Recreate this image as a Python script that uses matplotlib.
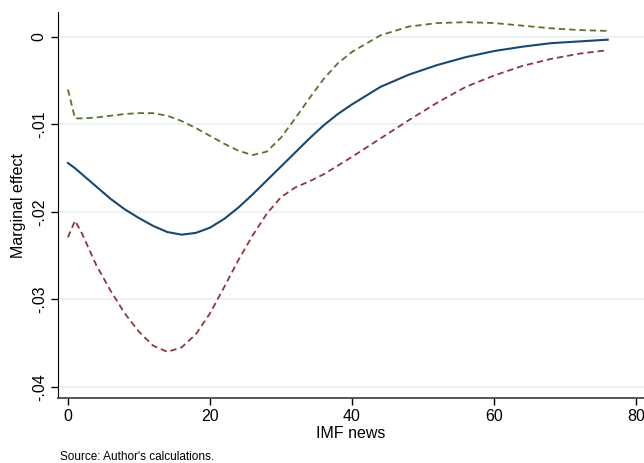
import matplotlib.pyplot as plt

plt.rcParams['font.family'] = ['Liberation Sans', 'DejaVu Sans']

# IMF news values where the curves were read
imf_news = [0, 1, 2, 4, 6, 8, 10, 12, 14, 16, 18, 20, 22, 24, 26, 28,
            30, 32, 34, 36, 38, 40, 44, 48, 52, 56, 60, 64, 68, 72, 76]

marginal = [-0.0144, -0.0150, -0.0157, -0.0171, -0.0185, -0.0197, -0.0207,
            -0.0216, -0.0223, -0.0226, -0.0224, -0.0218, -0.0208, -0.0195,
            -0.0180, -0.0164, -0.0148, -0.0132, -0.0116, -0.0101, -0.0088,
            -0.0077, -0.0057, -0.0043, -0.0032, -0.0023, -0.0016, -0.0011,
            -0.0007, -0.0005, -0.0003]

upper = [-0.0060, -0.0093, -0.0093, -0.0092, -0.0090, -0.0088, -0.0087,
         -0.0087, -0.0090, -0.0096, -0.0104, -0.0113, -0.0122, -0.0130,
         -0.0135, -0.0131, -0.0115, -0.0093, -0.0070, -0.0048, -0.0030,
         -0.0017, 0.0002, 0.0012, 0.0016, 0.0017, 0.0016, 0.0013,
         0.0010, 0.0008, 0.0007]

lower = [-0.0229, -0.0210, -0.0225, -0.0261, -0.0290, -0.0316, -0.0337,
         -0.0353, -0.0360, -0.0355, -0.0340, -0.0316, -0.0286, -0.0255,
         -0.0227, -0.0202, -0.0183, -0.0172, -0.0165, -0.0157, -0.0147,
         -0.0137, -0.0116, -0.0095, -0.0075, -0.0057, -0.0044, -0.0033,
         -0.0025, -0.0019, -0.0015]

y_ticks = [0, -0.01, -0.02, -0.03, -0.04]
y_labels = ['0', '-.01', '-.02', '-.03', '-.04']
x_ticks = [0, 20, 40, 60, 80]

fig = plt.figure(figsize=(6.44, 4.63), dpi=100)
ax = fig.add_axes([0.090, 0.140, 0.910, 0.834])

for yt in y_ticks:
    ax.axhline(yt, color='#eaf2f3', linewidth=1.3, zorder=0)

ax.plot(imf_news, upper, color='#55752f', linewidth=1.3, dashes=(3.5, 2.2))
ax.plot(imf_news, lower, color='#90353b', linewidth=1.3, dashes=(3.5, 2.2))
ax.plot(imf_news, marginal, color='#1a476f', linewidth=1.5)

ax.set_xlim(-1.4, 81.1)
ax.set_ylim(-0.0413, 0.00286)
ax.set_xticks(x_ticks)
ax.set_yticks(y_ticks)
ax.set_yticklabels(y_labels, rotation=90, va='center')
ax.tick_params(axis='both', direction='out', length=5, width=1,
               labelsize=11.5, colors='black')
ax.tick_params(axis='y', pad=3)
ax.tick_params(axis='x', pad=3)

for side in ['top', 'right']:
    ax.spines[side].set_visible(False)
ax.spines['left'].set_color('black')
ax.spines['bottom'].set_color('#555555')
ax.spines['bottom'].set_linewidth(1.4)

ax.set_xlabel('IMF news', fontsize=11.5, labelpad=1)
ax.set_ylabel('Marginal effect', fontsize=11.5, labelpad=4)

fig.text(0.093, 0.006, "Source: Author's calculations.", fontsize=8.5)

fig.savefig('out.png', dpi=100)
